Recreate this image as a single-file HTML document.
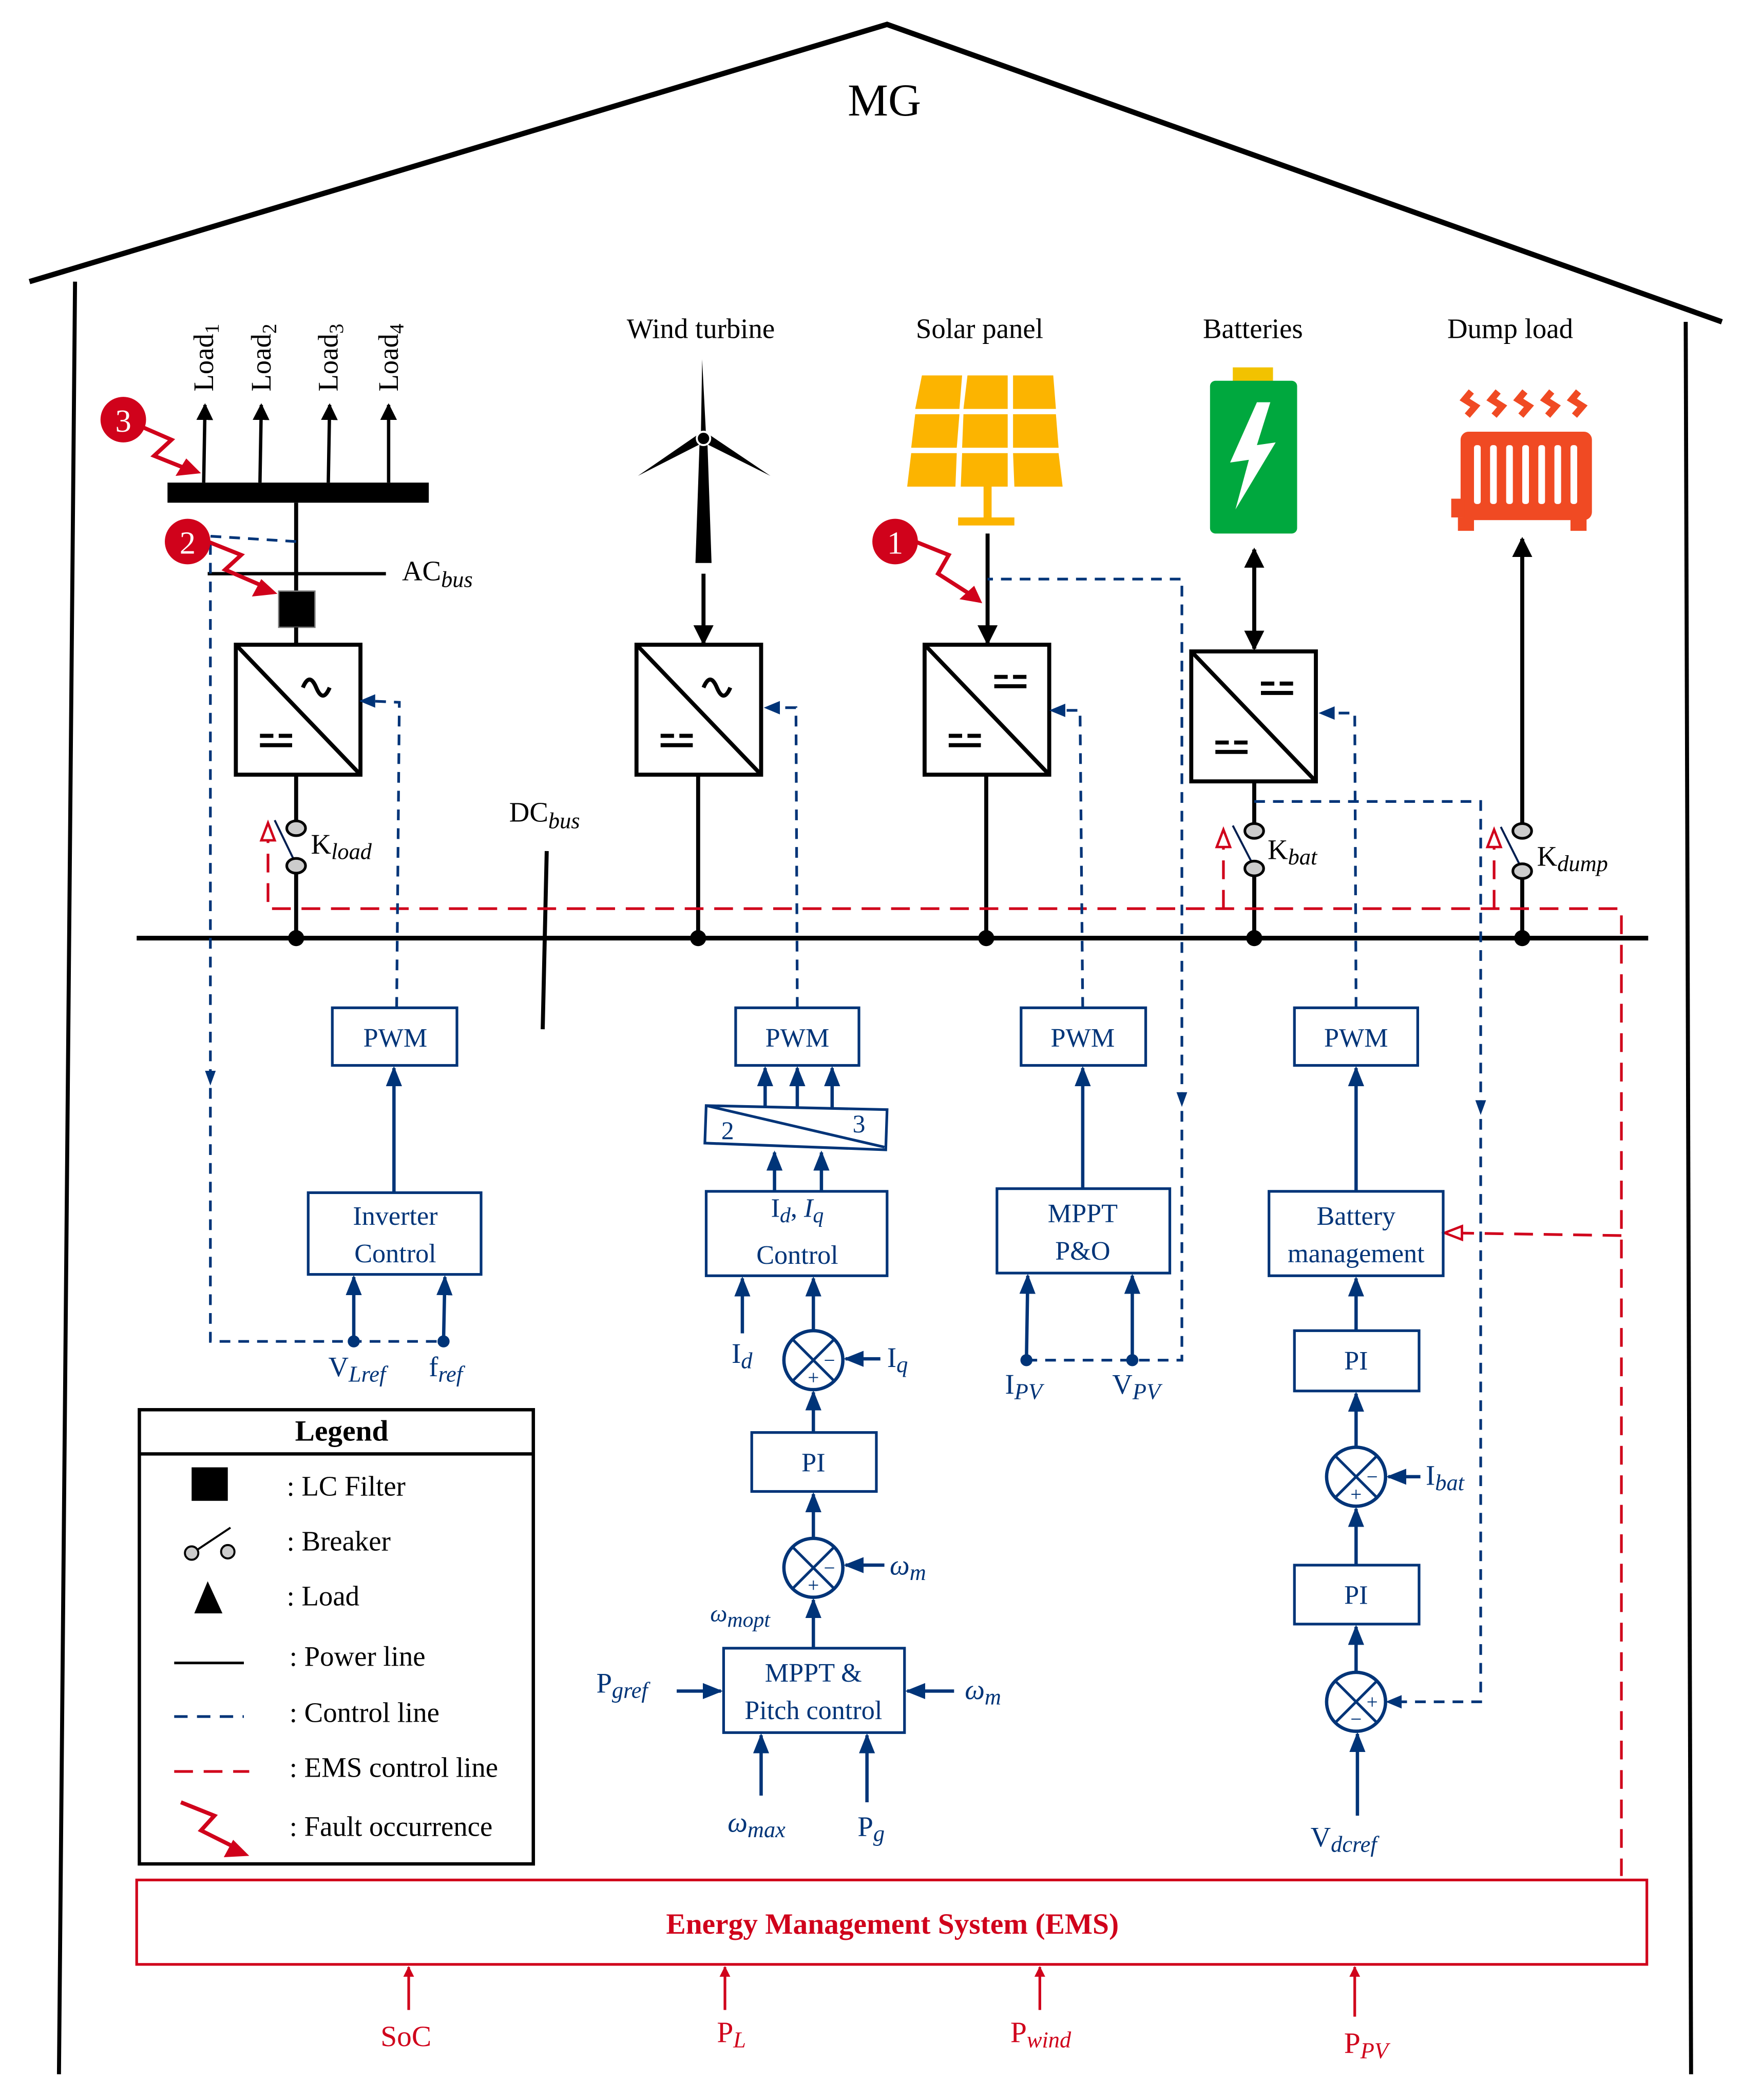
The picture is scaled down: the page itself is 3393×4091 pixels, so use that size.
<!DOCTYPE html>
<html><head><meta charset="utf-8"><style>
html,body{margin:0;padding:0;background:#fff}
svg{display:block}
text{font-family:"Liberation Serif",serif}
</style></head><body>
<svg width="3393" height="4091" viewBox="0 0 1300 1567" xmlns="http://www.w3.org/2000/svg">
<defs>
<marker id="ab" viewBox="0 0 10 10" refX="9" refY="5" markerWidth="5" markerHeight="5" orient="auto-start-reverse"><path d="M0,0L10,5L0,10z" fill="#000"/></marker>
<marker id="an" viewBox="0 0 10 10" refX="9" refY="5" markerWidth="6" markerHeight="6" orient="auto-start-reverse"><path d="M0,1L10,5L0,9z" fill="#003478"/></marker>
<marker id="af" viewBox="0 0 10 10" refX="9" refY="5" markerWidth="4" markerHeight="4" orient="auto"><path d="M0,0L10,5L0,10z" fill="#d0021b"/></marker>
<g id="cv"><rect x="0" y="0" width="93" height="97" fill="#fff" stroke="#000" stroke-width="3"/><line x1="0" y1="0" x2="93" y2="97" stroke="#000" stroke-width="3"/>
<path d="M18,68h10M32,68h10M18,75h24" stroke="#000" stroke-width="3"/></g>
<path id="ac" d="M50,32q5,-12 10,0t10,0" fill="none" stroke="#000" stroke-width="3"/>
<path id="dc" d="M52,24h10M66,24h10M52,31h24" stroke="#000" stroke-width="3"/>
<g id="sum"><circle r="22" fill="#fff" stroke="#003478" stroke-width="2.5"/><line x1="-15.5" y1="-15.5" x2="15.5" y2="15.5" stroke="#003478" stroke-width="2"/><line x1="15.5" y1="-15.5" x2="-15.5" y2="15.5" stroke="#003478" stroke-width="2"/></g>
</defs>

<polyline points="22,210 662,18 1285,240" fill="none" stroke="#000" stroke-width="4"/>
<line x1="56" y1="210" x2="44" y2="1548" stroke="#000" stroke-width="3"/>
<line x1="1258" y1="240" x2="1262" y2="1548" stroke="#000" stroke-width="3"/>
<text x="660" y="86" font-size="34" text-anchor="middle">MG</text>

<g font-size="21" text-anchor="middle">
<text x="523" y="252">Wind turbine</text><text x="731" y="252">Solar panel</text>
<text x="935" y="252">Batteries</text><text x="1127" y="252">Dump load</text></g>

<rect x="125" y="360" width="195" height="15" fill="#000"/>
<g stroke="#000" stroke-width="2.5" marker-end="url(#ab)">
<line x1="152" y1="360" x2="153" y2="302"/><line x1="194" y1="360" x2="195" y2="302"/>
<line x1="245" y1="360" x2="246" y2="302"/><line x1="290" y1="360" x2="290" y2="302"/></g>
<g font-size="21">
<text transform="translate(159,292) rotate(-90)">Load<tspan font-size="15" dy="4">1</tspan></text>
<text transform="translate(202,292) rotate(-90)">Load<tspan font-size="15" dy="4">2</tspan></text>
<text transform="translate(252,292) rotate(-90)">Load<tspan font-size="15" dy="4">3</tspan></text>
<text transform="translate(297,292) rotate(-90)">Load<tspan font-size="15" dy="4">4</tspan></text></g>
<line x1="221" y1="375" x2="221" y2="445" stroke="#000" stroke-width="3"/>
<line x1="155" y1="428" x2="288" y2="428" stroke="#000" stroke-width="2.5"/>
<text x="300" y="433" font-size="21">AC<tspan font-size="17" font-style="italic" dy="5">bus</tspan></text>
<rect x="208" y="441" width="27" height="27" fill="#000" stroke="#777"/>
<line x1="221" y1="468" x2="221" y2="481" stroke="#000" stroke-width="3"/>
<use href="#cv" x="176" y="481"/><use href="#ac" x="176" y="481"/>
<line x1="221" y1="578" x2="221" y2="612" stroke="#000" stroke-width="3"/>
<line x1="221" y1="652" x2="221" y2="700" stroke="#000" stroke-width="3"/>
<line x1="205" y1="612" x2="221" y2="645" stroke="#001e50" stroke-width="1.5"/>
<ellipse cx="221" cy="618" rx="7" ry="5.5" fill="#ccc" stroke="#000" stroke-width="2"/>
<ellipse cx="221" cy="646" rx="7" ry="5.5" fill="#ccc" stroke="#000" stroke-width="2"/>
<text x="232" y="637" font-size="21">K<tspan font-size="17" font-style="italic" dy="4">load</tspan></text>

<line x1="102" y1="700" x2="1230" y2="700" stroke="#000" stroke-width="3.5"/>
<g fill="#000"><circle cx="221" cy="700" r="6"/><circle cx="521" cy="700" r="6"/><circle cx="736" cy="700" r="6"/><circle cx="936" cy="700" r="6"/><circle cx="1136" cy="700" r="6"/></g>
<text x="380" y="613" font-size="21">DC<tspan font-size="17" font-style="italic" dy="5">bus</tspan></text>
<line x1="408" y1="635" x2="405" y2="768" stroke="#000" stroke-width="3"/>

<polygon points="522,332 528,332 531,420 519,420" fill="#000"/>
<polygon points="523,327 527,327 524,268" fill="#000"/>
<polygon points="521,324 525,330 476,355" fill="#000"/>
<polygon points="525,330 529,324 575,355" fill="#000"/>
<circle cx="525" cy="327" r="5" fill="#000" stroke="#fff" stroke-width="1.5"/>
<line x1="525" y1="428" x2="525" y2="480" stroke="#000" stroke-width="3" marker-end="url(#ab)"/>
<use href="#cv" x="475" y="481"/><use href="#ac" x="475" y="481"/>
<line x1="521" y1="578" x2="521" y2="700" stroke="#000" stroke-width="3"/>

<g fill="#fcb400">
<polygon points="688,280 718,280 716,305 683,305"/><polygon points="722,280 752,280 752,305 719,305"/><polygon points="756,280 786,280 788,305 756,305"/>
<polygon points="683,309 716,309 714,334 680,334"/><polygon points="719,309 752,309 752,334 718,334"/><polygon points="756,309 788,309 790,334 756,334"/>
<polygon points="680,338 714,338 713,363 677,363"/><polygon points="718,338 752,338 752,363 717,363"/><polygon points="756,338 790,338 793,363 757,363"/>
<rect x="734" y="363" width="6" height="28"/><rect x="715" y="386" width="42" height="6"/></g>
<line x1="737" y1="398" x2="737" y2="480" stroke="#000" stroke-width="3" marker-end="url(#ab)"/>
<use href="#cv" x="690" y="481"/><use href="#dc" x="690" y="481"/>
<line x1="736" y1="578" x2="736" y2="700" stroke="#000" stroke-width="3"/>

<rect x="920" y="274" width="30" height="12" fill="#f2c200"/>
<rect x="903" y="284" width="65" height="114" rx="4" fill="#00a83e"/>
<polygon points="938,300 918,345 932,343 922,380 952,330 938,332 948,300" fill="#fff"/>
<line x1="936" y1="410" x2="936" y2="484" stroke="#000" stroke-width="3" marker-start="url(#ab)" marker-end="url(#ab)"/>
<use href="#cv" x="889" y="486"/><use href="#dc" x="889" y="486"/>
<line x1="936" y1="583" x2="936" y2="614" stroke="#000" stroke-width="3"/>
<line x1="936" y1="654" x2="936" y2="700" stroke="#000" stroke-width="3"/>
<line x1="920" y1="616" x2="936" y2="647" stroke="#001e50" stroke-width="1.5"/>
<ellipse cx="936" cy="620" rx="7" ry="5.5" fill="#ccc" stroke="#000" stroke-width="2"/>
<ellipse cx="936" cy="648" rx="7" ry="5.5" fill="#ccc" stroke="#000" stroke-width="2"/>
<text x="946" y="641" font-size="21">K<tspan font-size="17" font-style="italic" dy="4">bat</tspan></text>

<g fill="none" stroke="#f04a23" stroke-width="5">
<path d="M1098,292l-5,6 8,5 -6,7M1118,292l-5,6 8,5 -6,7M1138,292l-5,6 8,5 -6,7M1158,292l-5,6 8,5 -6,7M1178,292l-5,6 8,5 -6,7"/></g>
<rect x="1090" y="322" width="98" height="66" rx="6" fill="#f04a23"/>
<rect x="1083" y="372" width="10" height="14" fill="#f04a23"/>
<rect x="1088" y="386" width="12" height="10" fill="#f04a23"/><rect x="1172" y="386" width="12" height="10" fill="#f04a23"/>
<g fill="#fff"><rect x="1100" y="332" width="5" height="44" rx="2"/><rect x="1112" y="332" width="5" height="44" rx="2"/><rect x="1124" y="332" width="5" height="44" rx="2"/><rect x="1136" y="332" width="5" height="44" rx="2"/><rect x="1148" y="332" width="5" height="44" rx="2"/><rect x="1160" y="332" width="5" height="44" rx="2"/><rect x="1172" y="332" width="5" height="44" rx="2"/></g>
<line x1="1136" y1="614" x2="1136" y2="402" stroke="#000" stroke-width="3" marker-end="url(#ab)"/>
<line x1="1136" y1="656" x2="1136" y2="700" stroke="#000" stroke-width="3"/>
<line x1="1120" y1="617" x2="1136" y2="649" stroke="#001e50" stroke-width="1.5"/>
<ellipse cx="1136" cy="620" rx="7" ry="5.5" fill="#ccc" stroke="#000" stroke-width="2"/>
<ellipse cx="1136" cy="650" rx="7" ry="5.5" fill="#ccc" stroke="#000" stroke-width="2"/>
<text x="1147" y="646" font-size="21">K<tspan font-size="17" font-style="italic" dy="4">dump</tspan></text>

<g fill="none" stroke="#d0021b" stroke-width="2" stroke-dasharray="14,8">
<polyline points="200,615 200,678 1210,678 1210,1400"/>
<line x1="913" y1="678" x2="913" y2="620"/><line x1="1115" y1="678" x2="1115" y2="620"/>
<line x1="1210" y1="922" x2="1080" y2="920"/></g>
<g fill="#fff" stroke="#d0021b" stroke-width="1.8">
<polygon points="200,614 195,627 205,627"/><polygon points="913,619 908,632 918,632"/><polygon points="1115,619 1110,632 1120,632"/><polygon points="1078,920 1091,915 1091,925"/></g>

<g fill="none" stroke="#003478" stroke-width="2" stroke-dasharray="8,6">
<polyline points="221,404 157,400 157,1001 331,1001"/>
<polyline points="296,752 298,524 276,523"/>
<polyline points="595,752 594,528 578,528"/>
<polyline points="808,752 806,530 791,530"/>
<polyline points="766,1015 882,1015 882,432 737,432"/>
<polyline points="1012,752 1011,532 992,532"/>
<polyline points="936,598 1105,598 1105,1270 1040,1270"/></g>
<g fill="#003478">
<polygon points="268,523 280,518 280,528"/><polygon points="570,528 582,523 582,533"/><polygon points="783,530 795,525 795,535"/><polygon points="984,532 996,527 996,537"/><polygon points="1034,1270 1046,1265 1046,1275"/>
<polygon points="157,810 153,799 161,799"/><polygon points="882,826 878,815 886,815"/><polygon points="1105,832 1101,821 1109,821"/></g>

<g fill="none" stroke="#003478" stroke-width="2">
<rect x="248" y="752" width="93" height="43"/><rect x="230" y="890" width="129" height="61"/>
<rect x="549" y="752" width="92" height="43"/>
<polygon points="527,825 662,828 661,858 526,853"/><line x1="527" y1="825" x2="660" y2="856"/>
<rect x="527" y="889" width="135" height="63"/>
<rect x="561" y="1069" width="93" height="44"/><rect x="540" y="1230" width="135" height="63"/>
<rect x="762" y="752" width="93" height="43"/><rect x="744" y="887" width="129" height="63"/>
<rect x="966" y="752" width="92" height="43"/><rect x="947" y="889" width="130" height="63"/>
<rect x="966" y="993" width="93" height="45"/><rect x="966" y="1168" width="93" height="44"/>
<rect x="102" y="1403" width="1127" height="63" stroke="#d0021b"/></g>

<g stroke="#003478" stroke-width="2.5" marker-end="url(#an)">
<line x1="294" y1="890" x2="294" y2="797"/>
<line x1="264" y1="1001" x2="264" y2="953"/><line x1="331" y1="1001" x2="332" y2="953"/>
<line x1="571" y1="826" x2="571" y2="797"/><line x1="595" y1="827" x2="595" y2="797"/><line x1="621" y1="827" x2="621" y2="797"/>
<line x1="578" y1="889" x2="578" y2="860"/><line x1="613" y1="889" x2="613" y2="860"/>
<line x1="554" y1="995" x2="554" y2="954"/>
<line x1="607" y1="993" x2="607" y2="954"/>
<line x1="657" y1="1014" x2="631" y2="1014"/>
<line x1="607" y1="1069" x2="607" y2="1039"/>
<line x1="607" y1="1148" x2="607" y2="1115"/>
<line x1="660" y1="1168" x2="631" y2="1168"/>
<line x1="607" y1="1230" x2="607" y2="1194"/>
<line x1="505" y1="1262" x2="538" y2="1262"/><line x1="712" y1="1262" x2="677" y2="1262"/>
<line x1="568" y1="1340" x2="568" y2="1295"/><line x1="647" y1="1345" x2="647" y2="1295"/>
<line x1="808" y1="887" x2="808" y2="797"/>
<line x1="766" y1="1015" x2="767" y2="952"/><line x1="845" y1="1015" x2="845" y2="952"/>
<line x1="1012" y1="889" x2="1012" y2="797"/>
<line x1="1012" y1="993" x2="1012" y2="954"/>
<line x1="1012" y1="1080" x2="1012" y2="1040"/>
<line x1="1060" y1="1102" x2="1036" y2="1102"/>
<line x1="1012" y1="1168" x2="1012" y2="1126"/>
<line x1="1012" y1="1248" x2="1012" y2="1214"/>
<line x1="1013" y1="1355" x2="1013" y2="1294"/></g>
<g fill="#003478"><circle cx="264" cy="1001" r="4.5"/><circle cx="331" cy="1001" r="4.5"/><circle cx="766" cy="1015" r="4.5"/><circle cx="845" cy="1015" r="4.5"/></g>
<use href="#sum" x="607" y="1015"/><use href="#sum" x="607" y="1170"/><use href="#sum" x="1012" y="1102"/><use href="#sum" x="1012" y="1270"/>
<g fill="#003478" font-size="15" font-family="Liberation Sans" text-anchor="middle">
<text x="619" y="1020">−</text><text x="607" y="1033">+</text>
<text x="619" y="1175">−</text><text x="607" y="1188">+</text>
<text x="1024" y="1107">−</text><text x="1012" y="1120">+</text>
<text x="1024" y="1275">+</text><text x="1012" y="1288">−</text></g>

<g fill="#003478" font-size="20" text-anchor="middle">
<text x="295" y="781">PWM</text><text x="595" y="781">PWM</text><text x="808" y="781">PWM</text><text x="1012" y="781">PWM</text>
<text x="295" y="914">Inverter</text><text x="295" y="942">Control</text>
<text x="595" y="908">I<tspan font-size="16" font-style="italic" dy="4">d</tspan><tspan dy="-4">, </tspan><tspan font-style="italic">I</tspan><tspan font-size="16" font-style="italic" dy="4">q</tspan></text>
<text x="595" y="943">Control</text>
<text x="543" y="850" font-size="19">2</text><text x="641" y="845" font-size="19">3</text>
<text x="607" y="1098">PI</text>
<text x="607" y="1255">MPPT &amp;</text><text x="607" y="1283">Pitch control</text>
<text x="808" y="912">MPPT</text><text x="808" y="940">P&amp;O</text>
<text x="1012" y="914">Battery</text><text x="1012" y="942">management</text>
<text x="1012" y="1022">PI</text><text x="1012" y="1197">PI</text>
</g>
<g fill="#003478" font-size="21">
<text x="245" y="1027">V<tspan font-size="17" font-style="italic" dy="4">Lref</tspan></text>
<text x="320" y="1027">f<tspan font-size="17" font-style="italic" dy="4">ref</tspan></text>
<text x="546" y="1017">I<tspan font-size="17" font-style="italic" dy="4">d</tspan></text>
<text x="662" y="1020">I<tspan font-size="17" font-style="italic" dy="4">q</tspan></text>
<text x="664" y="1175" font-style="italic">ω<tspan font-size="17" dy="4">m</tspan></text>
<text x="530" y="1210" font-style="italic" font-size="18">ω<tspan font-size="16" dy="4">mopt</tspan></text>
<text x="445" y="1263">P<tspan font-size="17" font-style="italic" dy="4">gref</tspan></text>
<text x="720" y="1268" font-style="italic">ω<tspan font-size="17" dy="4">m</tspan></text>
<text x="543" y="1367" font-style="italic">ω<tspan font-size="17" dy="4">max</tspan></text>
<text x="640" y="1370">P<tspan font-size="17" font-style="italic" dy="4">g</tspan></text>
<text x="750" y="1040">I<tspan font-size="17" font-style="italic" dy="4">PV</tspan></text>
<text x="830" y="1040">V<tspan font-size="17" font-style="italic" dy="4">PV</tspan></text>
<text x="1064" y="1108">I<tspan font-size="17" font-style="italic" dy="4">bat</tspan></text>
<text x="978" y="1378">V<tspan font-size="17" font-style="italic" dy="4">dcref</tspan></text>
</g>

<text x="666" y="1443" font-size="22" font-weight="bold" fill="#d0021b" text-anchor="middle">Energy Management System (EMS)</text>
<g stroke="#d0021b" stroke-width="2" marker-end="url(#af)">
<line x1="305" y1="1500" x2="305" y2="1468"/><line x1="541" y1="1500" x2="541" y2="1468"/><line x1="776" y1="1500" x2="776" y2="1468"/><line x1="1011" y1="1505" x2="1011" y2="1468"/></g>
<g fill="#d0021b" font-size="22">
<text x="284" y="1527">SoC</text>
<text x="535" y="1524">P<tspan font-size="17" font-style="italic" dy="4">L</tspan></text>
<text x="754" y="1524">P<tspan font-size="17" font-style="italic" dy="4">wind</tspan></text>
<text x="1003" y="1532">P<tspan font-size="17" font-style="italic" dy="4">PV</tspan></text></g>

<g fill="none" stroke="#d0021b" stroke-width="3">
<polyline points="105,318 128,328 115,340 140,350"/>
<polyline points="155,404 180,414 168,425 198,438"/>
<polyline points="683,404 708,414 700,428 725,444"/></g>
<g fill="#d0021b"><polygon points="150,353 131,355 139,342"/><polygon points="207,443 188,445 195,432"/><polygon points="733,450 716,447 727,437"/>
<circle cx="92" cy="313" r="17"/><circle cx="140" cy="404" r="17"/><circle cx="668" cy="404" r="17"/></g>
<g fill="#fff" font-size="24" text-anchor="middle"><text x="92" y="322">3</text><text x="140" y="413">2</text><text x="668" y="413">1</text></g>

<rect x="104" y="1052" width="294" height="339" fill="#fff" stroke="#000" stroke-width="2.5"/>
<line x1="104" y1="1085" x2="398" y2="1085" stroke="#000" stroke-width="2.5"/>
<text x="255" y="1075" font-size="22" font-weight="bold" text-anchor="middle">Legend</text>
<rect x="143" y="1095" width="27" height="25" fill="#000"/>
<line x1="142" y1="1160" x2="172" y2="1140" stroke="#000" stroke-width="1.5"/>
<circle cx="143" cy="1159" r="5" fill="#ccc" stroke="#000" stroke-width="1.5"/><circle cx="170" cy="1158" r="5" fill="#ccc" stroke="#000" stroke-width="1.5"/>
<polygon points="155,1180 145,1204 166,1204" fill="#000"/>
<line x1="130" y1="1241" x2="182" y2="1241" stroke="#000" stroke-width="2"/>
<line x1="130" y1="1281" x2="182" y2="1281" stroke="#003478" stroke-width="2" stroke-dasharray="10,7"/>
<line x1="130" y1="1322" x2="186" y2="1322" stroke="#d0021b" stroke-width="2" stroke-dasharray="14,8"/>
<polyline points="135,1345 160,1355 150,1366 178,1380" fill="none" stroke="#d0021b" stroke-width="3"/>
<polygon points="186,1385 167,1386 174,1373" fill="#d0021b"/>
<g font-size="21">
<text x="214" y="1116">: LC Filter</text><text x="214" y="1157">: Breaker</text><text x="214" y="1198">: Load</text>
<text x="216" y="1243">: Power line</text><text x="216" y="1285">: Control line</text><text x="216" y="1326">: EMS control line</text><text x="216" y="1370">: Fault occurrence</text></g>
</svg>
</body></html>
